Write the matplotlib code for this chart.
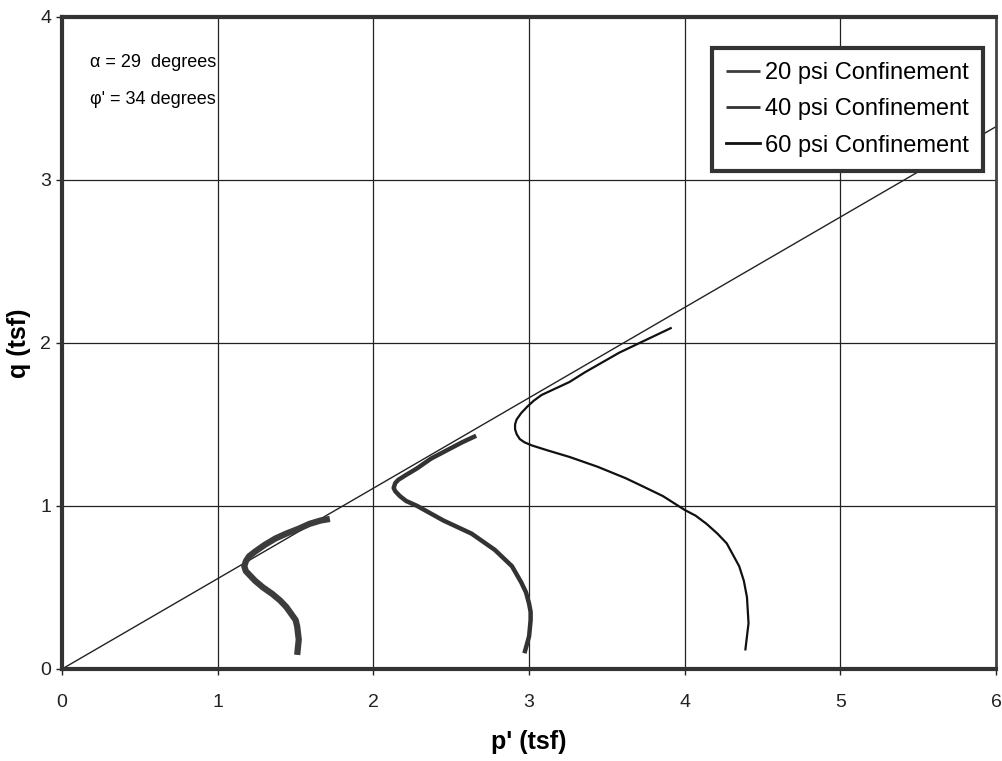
import numpy as np
import matplotlib
matplotlib.use('Agg')
import matplotlib.pyplot as plt

plt.rcParams['font.family'] = ['Liberation Sans', 'DejaVu Sans']

# stress paths (p', q in tsf)
p20 = [1.51, 1.52, 1.51, 1.50, 1.47, 1.44, 1.40, 1.35, 1.29, 1.24, 1.21, 1.18, 1.17,
       1.18, 1.20, 1.24, 1.30, 1.37, 1.44, 1.52, 1.59, 1.66, 1.72]
q20 = [0.086, 0.18, 0.26, 0.30, 0.34, 0.38, 0.42, 0.46, 0.50, 0.54, 0.57, 0.60, 0.63,
       0.66, 0.69, 0.72, 0.76, 0.80, 0.83, 0.86, 0.89, 0.91, 0.92]

p40 = [2.97, 3.00, 3.01, 3.01, 3.00, 2.98, 2.95, 2.89, 2.78, 2.63, 2.45, 2.28, 2.21,
       2.17, 2.14, 2.13, 2.14, 2.16, 2.21, 2.28, 2.37, 2.47, 2.57, 2.66]
q40 = [0.096, 0.20, 0.30, 0.35, 0.40, 0.47, 0.53, 0.63, 0.73, 0.83, 0.91, 1.00, 1.03,
       1.06, 1.09, 1.11, 1.14, 1.16, 1.19, 1.23, 1.29, 1.34, 1.39, 1.43]

p60 = [4.39, 4.41, 4.40, 4.38, 4.35, 4.31, 4.27, 4.21, 4.14, 4.07, 4.00, 3.86, 3.73,
       3.62, 3.44, 3.26, 3.12, 3.02, 2.97, 2.94, 2.92, 2.91, 2.91, 2.92, 2.95, 2.99,
       3.03, 3.08, 3.17, 3.26, 3.36, 3.47, 3.58, 3.69, 3.80, 3.91]
q60 = [0.12, 0.28, 0.44, 0.54, 0.63, 0.70, 0.77, 0.83, 0.89, 0.94, 0.975, 1.06, 1.12,
       1.17, 1.24, 1.30, 1.34, 1.37, 1.39, 1.41, 1.44, 1.47, 1.50, 1.53, 1.57, 1.61,
       1.645, 1.68, 1.72, 1.76, 1.82, 1.88, 1.94, 1.99, 2.04, 2.09]

alpha = 29
phi = 34

fig = plt.figure(figsize=(10.03, 7.61), dpi=100)
ax = fig.add_axes([0.062, 0.121, 0.931, 0.857])

# K_f line through the origin
pf = np.array([0, 6])
ax.plot(pf, pf * np.tan(np.radians(alpha)), color='#222222', lw=1.0, zorder=2)

ax.plot(p20, q20, color='#3c3c3c', lw=4.5, solid_capstyle='butt', zorder=3,
        label='20 psi Confinement')
ax.plot(p40, q40, color='#333333', lw=3.2, solid_capstyle='butt', zorder=3,
        label='40 psi Confinement')
ax.plot(p60, q60, color='#111111', lw=1.6, zorder=3,
        label='60 psi Confinement')

ax.set_xlim(0, 6)
ax.set_ylim(0, 4)
ax.set_xticks(range(0, 7))
ax.set_yticks(range(0, 5))
ax.grid(True, color='#222222', lw=0.9)
ax.set_axisbelow(True)
ax.tick_params(labelsize=14, length=4, width=1, colors='#222222')
ax.tick_params(axis='x', pad=14)
ax.tick_params(axis='y', pad=4)

for side in ['left', 'bottom', 'top']:
    ax.spines[side].set_linewidth(3)
    ax.spines[side].set_color('#333333')
ax.spines['right'].set_linewidth(2)
ax.spines['right'].set_color('#444444')

ax.set_xlabel("p' (tsf)", fontsize=18, fontweight='bold', labelpad=14)
ax.set_ylabel('q (tsf)', fontsize=18, fontweight='bold', va='center')
ax.yaxis.set_label_coords(-0.046, 0.5)

ax.text(0.18, 3.72, f'\u03b1 = {alpha}  degrees', fontsize=13, va='center')
ax.text(0.18, 3.49, f"\u03c6' = {phi} degrees", fontsize=13, va='center')

leg = ax.legend(loc='upper right', bbox_to_anchor=(0.986, 0.952), fontsize=17,
                handlelength=1.45, handletextpad=0.2, labelspacing=0.6,
                borderpad=0.6, borderaxespad=0, fancybox=False, framealpha=1)
leg.get_frame().set_edgecolor('#333333')
leg.get_frame().set_linewidth(3)
for h in leg.get_lines():
    h.set_linewidth(2.0)

fig.savefig('out.png', dpi=100)
